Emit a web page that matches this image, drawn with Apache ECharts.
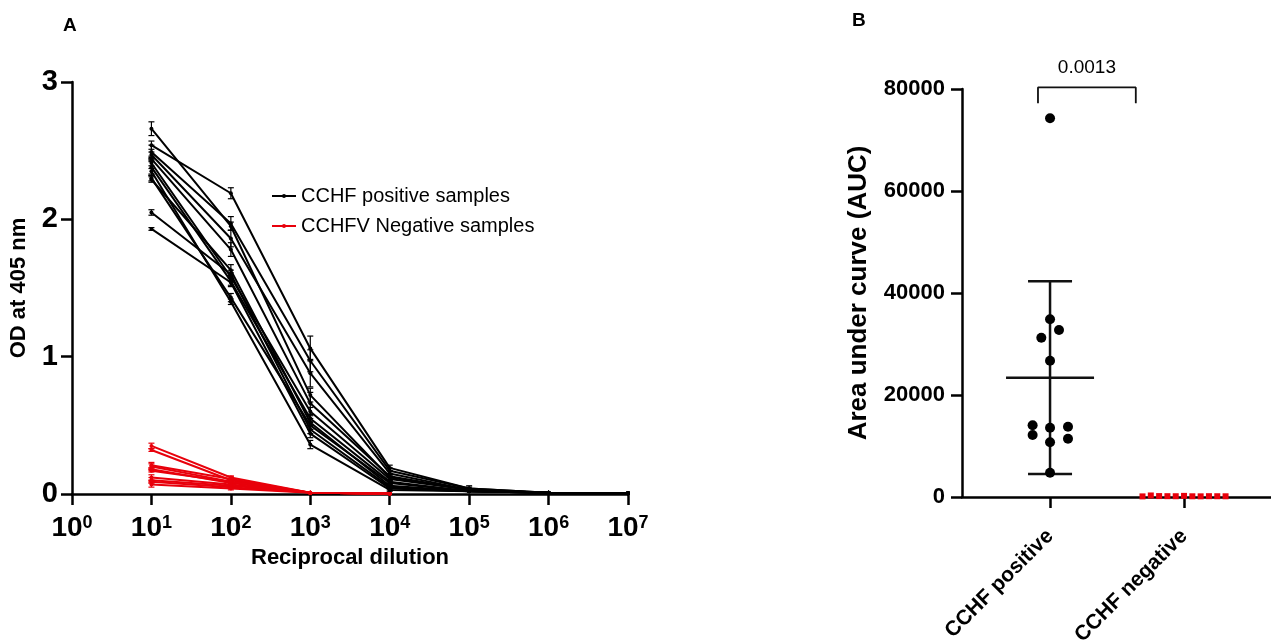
<!DOCTYPE html>
<html>
<head>
<meta charset="utf-8">
<script src="https://cdn.jsdelivr.net/npm/echarts@6/dist/echarts.min.js"></script>
<style>
  html, body { margin: 0; padding: 0; background: #fff; }
  #chart { width: 1271px; height: 643px; }
</style>
</head>
<body>
<div id="chart"></div>
<script>
// ---- panel A : OD vs reciprocal dilution ----
const dilutions = [1e1, 1e2, 1e3, 1e4, 1e5, 1e6, 1e7];
const odTicks = [0, 1, 2, 3];

// one row per positive sample
const positiveOD = [
  [2.66, 1.95, 0.72, 0.12, 0.03, 0.01, 0.005],
  [2.54, 2.19, 1.06, 0.19, 0.04, 0.01, 0.005],
  [2.49, 1.97, 0.97, 0.17, 0.04, 0.01, 0.005],
  [2.47, 1.86, 0.88, 0.15, 0.03, 0.01, 0.005],
  [2.44, 1.78, 0.66, 0.13, 0.03, 0.01, 0.005],
  [2.41, 1.58, 0.60, 0.11, 0.03, 0.01, 0.005],
  [2.38, 1.55, 0.55, 0.09, 0.02, 0.01, 0.005],
  [2.30, 1.43, 0.50, 0.08, 0.02, 0.01, 0.005],
  [2.29, 1.63, 0.52, 0.06, 0.02, 0.01, 0.005],
  [2.05, 1.60, 0.47, 0.05, 0.02, 0.01, 0.005],
  [1.93, 1.54, 0.44, 0.04, 0.02, 0.01, 0.005],
  [2.35, 1.40, 0.36, 0.03, 0.02, 0.01, 0.005]
];
const positiveSD = [
  [0.05, 0.03, 0.05, 0.02, 0.01, 0, 0],
  [0.03, 0.04, 0.09, 0.02, 0.02, 0, 0],
  [0.05, 0.05, 0.08, 0.02, 0.01, 0, 0],
  [0.02, 0.06, 0.10, 0.02, 0.01, 0, 0],
  [0.02, 0.05, 0.08, 0.01, 0.01, 0, 0],
  [0.02, 0.03, 0.03, 0.01, 0, 0, 0],
  [0.06, 0.03, 0.03, 0.01, 0, 0, 0],
  [0.02, 0.03, 0.03, 0.01, 0, 0, 0],
  [0.02, 0.04, 0.03, 0.01, 0, 0, 0],
  [0.02, 0.03, 0.03, 0.01, 0, 0, 0],
  [0.01, 0.03, 0.03, 0.01, 0, 0, 0],
  [0.02, 0.02, 0.03, 0.01, 0, 0, 0]
];
// negative samples only visible down to 10^4
const negativeOD = [
  [0.35, 0.12, 0.010, 0.004],
  [0.32, 0.10, 0.010, 0.004],
  [0.21, 0.11, 0.010, 0.004],
  [0.20, 0.09, 0.010, 0.004],
  [0.18, 0.08, 0.010, 0.004],
  [0.17, 0.09, 0.010, 0.004],
  [0.12, 0.07, 0.010, 0.004],
  [0.10, 0.06, 0.010, 0.004],
  [0.09, 0.05, 0.010, 0.004],
  [0.07, 0.04, 0.010, 0.004]
];
const negativeSD = [
  [0.02, 0.01, 0, 0], [0.01, 0.01, 0, 0], [0.02, 0.02, 0, 0], [0.02, 0.01, 0, 0],
  [0.01, 0.01, 0, 0], [0.01, 0.01, 0, 0], [0.02, 0.01, 0, 0], [0.02, 0.01, 0, 0],
  [0.01, 0.01, 0, 0], [0.02, 0.01, 0, 0]
];

// ---- panel B : area under curve ----
const groups = ['CCHF positive', 'CCHF negative'];
const aucTicks = [0, 20000, 40000, 60000, 80000];
const aucPositive = [74250, 34840, 32745, 31235, 26725, 14060, 13590, 13785, 12160, 11430, 10725, 4765];
const aucPositiveJitter = [0, 0, 0.067, -0.065, 0, -0.13, 0, 0.134, -0.13, 0.134, 0, 0];
const aucNegative = [120, 300, 180, 160, 150, 220, 140, 130, 160, 150, 140];
const aucNegativeJitter = [-0.31, -0.248, -0.186, -0.124, -0.062, 0, 0.062, 0.124, 0.186, 0.248, 0.31];
const aucMean = 23400;
const aucSD = 18900;
const pValue = '0.0013';
const bracketX = [0.91, 1.64];
const bracketY = [77200, 80300];

const FONT = "'Liberation Sans', Arial, sans-serif";
const black = '#000000';
const red = '#e8000b';

function errorBarData(values, sds) {
  const out = [];
  values.forEach((row, i) => row.forEach((v, j) => {
    if (sds[i][j] > 0) out.push([dilutions[j], v - sds[i][j], v + sds[i][j]]);
  }));
  return out;
}

function errorBar(capHalf, width) {
  return function (params, api) {
    const x = api.value(0);
    const lo = api.coord([x, api.value(1)]);
    const hi = api.coord([x, api.value(2)]);
    const style = { stroke: api.visual('color'), lineWidth: width };
    return {
      type: 'group',
      children: [
        { type: 'line', shape: { x1: lo[0], y1: lo[1], x2: hi[0], y2: hi[1] }, style: style },
        { type: 'line', shape: { x1: hi[0] - capHalf, y1: hi[1], x2: hi[0] + capHalf, y2: hi[1] }, style: style },
        { type: 'line', shape: { x1: lo[0] - capHalf, y1: lo[1], x2: lo[0] + capHalf, y2: lo[1] }, style: style }
      ]
    };
  };
}

const series = [];
positiveOD.forEach(row => series.push({
  name: 'CCHF positive samples', type: 'line', xAxisIndex: 0, yAxisIndex: 0,
  data: row.map((v, j) => [dilutions[j], v]),
  symbol: 'circle', symbolSize: 4, color: black,
  lineStyle: { width: 2, color: black }, itemStyle: { color: black }, z: 3
}));
negativeOD.forEach(row => series.push({
  name: 'CCHFV Negative samples', type: 'line', xAxisIndex: 0, yAxisIndex: 0,
  data: row.map((v, j) => [dilutions[j], v]),
  symbol: 'circle', symbolSize: 4, color: red,
  lineStyle: { width: 2, color: red }, itemStyle: { color: red }, z: 2
}));
series.push({
  type: 'custom', xAxisIndex: 0, yAxisIndex: 0, renderItem: errorBar(3, 1.2),
  itemStyle: { color: black }, encode: { x: 0, y: [1, 2] },
  data: errorBarData(positiveOD, positiveSD), z: 3, silent: true
});
series.push({
  type: 'custom', xAxisIndex: 0, yAxisIndex: 0, renderItem: errorBar(3, 1.2),
  itemStyle: { color: red }, encode: { x: 0, y: [1, 2] },
  data: errorBarData(negativeOD, negativeSD), z: 2, silent: true
});

// panel B
series.push({
  type: 'custom', xAxisIndex: 1, yAxisIndex: 1, silent: true, z: 2,
  itemStyle: { color: '#111' }, encode: { x: 0, y: 1 },
  data: [[1, aucMean, aucSD]],
  renderItem: function (params, api) {
    const x = api.value(0), m = api.value(1), sd = api.value(2);
    const c = api.coord([x, m]);
    const top = api.coord([x, m + sd]);
    const bot = api.coord([x, m - sd]);
    const st = { stroke: '#111', lineWidth: 2.5 };
    return {
      type: 'group', children: [
        { type: 'line', shape: { x1: c[0] - 44, y1: c[1], x2: c[0] + 44, y2: c[1] }, style: st },
        { type: 'line', shape: { x1: top[0], y1: top[1], x2: bot[0], y2: bot[1] }, style: st },
        { type: 'line', shape: { x1: top[0] - 22, y1: top[1], x2: top[0] + 22, y2: top[1] }, style: st },
        { type: 'line', shape: { x1: bot[0] - 22, y1: bot[1], x2: bot[0] + 22, y2: bot[1] }, style: st }
      ]
    };
  }
});
series.push({
  type: 'scatter', xAxisIndex: 1, yAxisIndex: 1, z: 4,
  symbol: 'circle', symbolSize: 10, itemStyle: { color: black, opacity: 1 },
  data: aucPositive.map((v, i) => [1 + aucPositiveJitter[i], v])
});
series.push({
  type: 'scatter', xAxisIndex: 1, yAxisIndex: 1, z: 4,
  symbol: 'rect', symbolSize: 6, itemStyle: { color: red, opacity: 1 },
  data: aucNegative.map((v, i) => [2 + aucNegativeJitter[i], v])
});
series.push({
  type: 'line', xAxisIndex: 1, yAxisIndex: 1, clip: false, symbol: 'none', z: 3,
  lineStyle: { color: '#111', width: 1.8 },
  data: [[bracketX[0], bracketY[0]], [bracketX[0], bracketY[1]], [bracketX[1], bracketY[1]], [bracketX[1], bracketY[0]]]
});
series.push({
  type: 'scatter', xAxisIndex: 1, yAxisIndex: 1, clip: false, symbolSize: 0, silent: true,
  itemStyle: { opacity: 1 },
  data: [[(bracketX[0] + bracketX[1]) / 2, bracketY[1]]],
  label: { show: true, position: 'top', distance: 10, formatter: pValue, color: black, opacity: 1, fontSize: 19, fontFamily: FONT }
});

const axisLine = { show: true, onZero: false, lineStyle: { color: black, width: 2.5 } };
const axisTick = { show: true, length: 11, lineStyle: { color: black, width: 2.5 } };

const option = {
  animation: false,
  backgroundColor: '#fff',
  textStyle: { fontFamily: FONT },
  graphic: [
    { type: 'text', left: 63, top: 16, style: { text: 'A', font: 'bold 19px ' + FONT, fill: black } },
    { type: 'text', left: 852, top: 11, style: { text: 'B', font: 'bold 19px ' + FONT, fill: black } }
  ],
  legend: {
    left: 266, top: 181, orient: 'vertical', itemGap: 10, itemWidth: 24, itemHeight: 5,
    data: ['CCHF positive samples', 'CCHFV Negative samples'],
    textStyle: { fontSize: 20, color: black, fontFamily: FONT }
  },
  grid: [
    { left: 72, top: 82, width: 556, height: 412, outerBoundsMode: 'none', containLabel: false },
    { left: 962, top: 89, width: 309, height: 408, outerBoundsMode: 'none', containLabel: false }
  ],
  xAxis: [
    {
      gridIndex: 0, type: 'log', logBase: 10, min: 1, max: 1e7, splitNumber: 7,
      name: 'Reciprocal dilution', nameLocation: 'middle', nameGap: 52,
      nameTextStyle: { fontSize: 22, fontWeight: 'bold', color: black, fontFamily: FONT },
      axisLine: axisLine, axisTick: axisTick, splitLine: { show: false }, minorTick: { show: false },
      axisLabel: {
        margin: 20, color: black,
        formatter: v => '{b|10}{s|' + Math.round(Math.log10(v)) + '}',
        rich: {
          b: { fontSize: 28, fontWeight: 'bold', fontFamily: FONT, color: black, verticalAlign: 'bottom' },
          s: { fontSize: 18, fontWeight: 'bold', fontFamily: FONT, color: black, verticalAlign: 'top' }
        }
      }
    },
    {
      gridIndex: 1, type: 'value', min: 0.343, max: 2.649,
      axisLine: axisLine, splitLine: { show: false },
      axisTick: Object.assign({ customValues: [1, 2] }, axisTick),
      axisLabel: {
        customValues: [1, 2], rotate: 45, margin: 36, color: black,
        fontSize: 21, fontWeight: 'bold', fontFamily: FONT,
        formatter: v => groups[Math.round(v) - 1]
      }
    }
  ],
  yAxis: [
    {
      gridIndex: 0, type: 'value', min: odTicks[0], max: odTicks[odTicks.length - 1], interval: 1,
      name: 'OD at 405 nm', nameLocation: 'middle', nameGap: 42,
      nameTextStyle: { fontSize: 22, fontWeight: 'bold', color: black, fontFamily: FONT },
      axisLine: axisLine, axisTick: axisTick, splitLine: { show: false },
      axisLabel: { fontSize: 29, fontWeight: 'bold', color: black, margin: 14, fontFamily: FONT }
    },
    {
      gridIndex: 1, type: 'value', min: aucTicks[0], max: aucTicks[aucTicks.length - 1], interval: 20000,
      name: 'Area under curve (AUC)', nameLocation: 'middle', nameGap: 90,
      nameTextStyle: { fontSize: 26, fontWeight: 'bold', color: black, fontFamily: FONT },
      axisLine: axisLine, axisTick: axisTick, splitLine: { show: false },
      axisLabel: { fontSize: 22, fontWeight: 'bold', color: black, margin: 17, fontFamily: FONT, formatter: v => String(v) }
    }
  ],
  series: series
};

const chart = echarts.init(document.getElementById('chart'));
chart.setOption(option);
</script>
</body>
</html>
